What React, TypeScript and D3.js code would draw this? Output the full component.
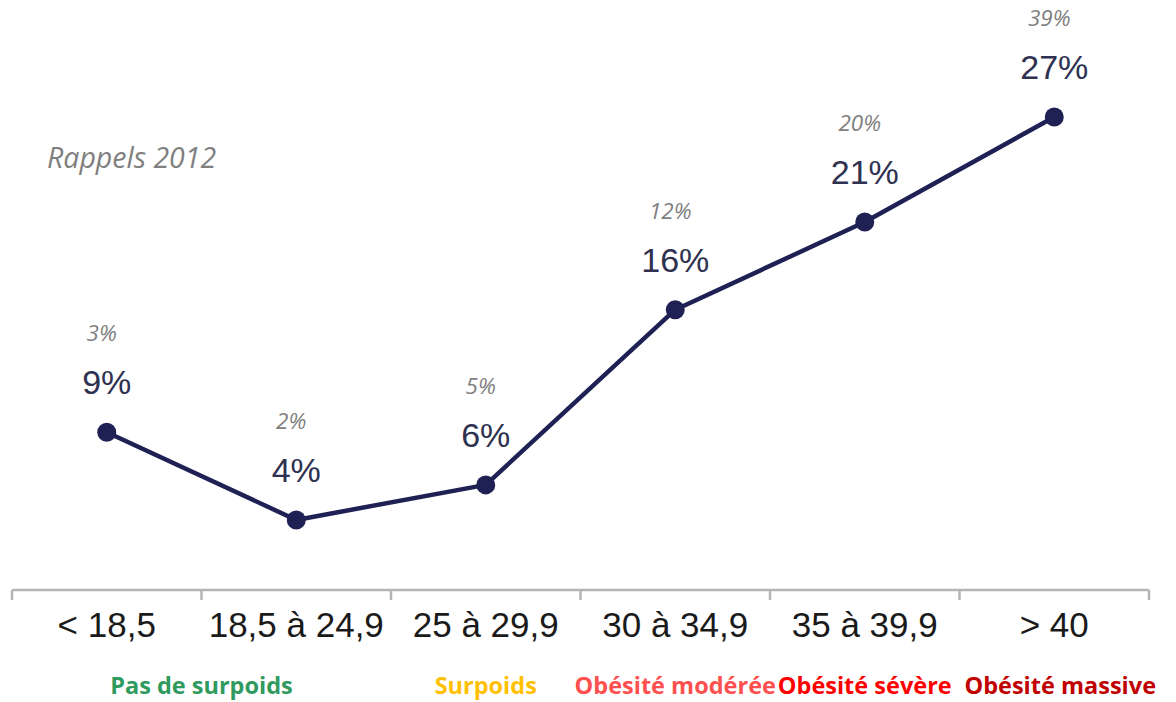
import React from "react";
import * as d3 from "d3";

const categories = ["< 18,5", "18,5 à 24,9", "25 à 29,9", "30 à 34,9", "35 à 39,9", "> 40"];
const values = [9, 4, 6, 16, 21, 27];
const values2012 = [3, 2, 5, 12, 20, 39];
const groupLabels = ["Pas de surpoids", "Surpoids", "Obésité modérée", "Obésité sévère", "Obésité massive"];
const groupColors = ["#2f9a5e", "#ffc000", "#ff5050", "#ff0000", "#c00000"];
const groupStart = [0, 2, 3, 4, 5];
const groupEnd = [1, 2, 3, 4, 5];
const noteLabel = "Rappels 2012";

const W = 1176;
const H = 702;

export default function App() {
  const x = d3.scaleBand<string>().domain(categories).range([12, 1149]).padding(0);
  const y = d3.scaleLinear().domain([0, 30]).range([590, 64.4]);
  const cx = (i: number) => (x(categories[i]) as number) + x.bandwidth() / 2;
  const pts: [number, number][] = values.map((v, i) => [cx(i), y(v)]);
  const line = d3.line<[number, number]>().x((d) => d[0]).y((d) => d[1]);
  const boundaries = [...categories.map((c) => x(c) as number), x.range()[1]];
  const axisY = y(0);

  return (
    <svg
      width={W}
      height={H}
      style={{ position: "absolute", left: 0, top: 0, background: "#fff" }}
    >
      {/* axis */}
      <g stroke="#b5b5b5" strokeWidth={2.5} fill="none">
        <line x1={x.range()[0]} x2={x.range()[1]} y1={axisY} y2={axisY} />
        {boundaries.map((b, i) => (
          <line key={i} x1={b} x2={b} y1={axisY} y2={axisY + 10} />
        ))}
      </g>
      {categories.map((c, i) => (
        <text
          key={c}
          x={cx(i)}
          y={637}
          textAnchor="middle"
          fontFamily="'Liberation Sans', Arial, sans-serif"
          fontSize={35}
          fill="#1a1a1a"
        >
          {c}
        </text>
      ))}

      {/* line */}
      <path d={line(pts) || ""} fill="none" stroke="#1f2154" strokeWidth={4.5} strokeLinejoin="round" />
      {pts.map((p, i) => (
        <circle key={i} cx={p[0]} cy={p[1]} r={9.5} fill="#1f2154" />
      ))}

      {/* main labels */}
      {pts.map((p, i) => (
        <text
          key={"m" + i}
          x={p[0]}
          y={p[1] - 38}
          textAnchor="middle"
          fontFamily="'Liberation Sans', Arial, sans-serif"
          fontSize={34}
          fill="#2e3150"
        >
          {values[i]}%
        </text>
      ))}
      {/* 2012 labels */}
      {pts.map((p, i) => (
        <text
          key={"s" + i}
          x={p[0] - 5}
          y={p[1] - 91}
          textAnchor="middle"
          fontFamily="'Open Sans', sans-serif"
          fontStyle="italic"
          fontSize={22.5}
          fill="#7f7f7f"
        >
          {values2012[i]}%
        </text>
      ))}

      <text
        x={47}
        y={168}
        fontFamily="'Open Sans', sans-serif"
        fontStyle="italic"
        fontSize={28.5}
        fill="#7f7f7f"
      >
        {noteLabel}
      </text>

      {/* group labels */}
      {groupLabels.map((g, i) => {
        const gx = (cx(groupStart[i]) + cx(groupEnd[i])) / 2;
        return (
          <text
            key={g}
            x={gx + (i === 4 ? 6 : 0)}
            y={694}
            textAnchor="middle"
            fontFamily="'Open Sans', sans-serif"
            fontWeight="bold"
            fontSize={23.5}
            fill={groupColors[i]}
          >
            {g}
          </text>
        );
      })}
    </svg>
  );
}
